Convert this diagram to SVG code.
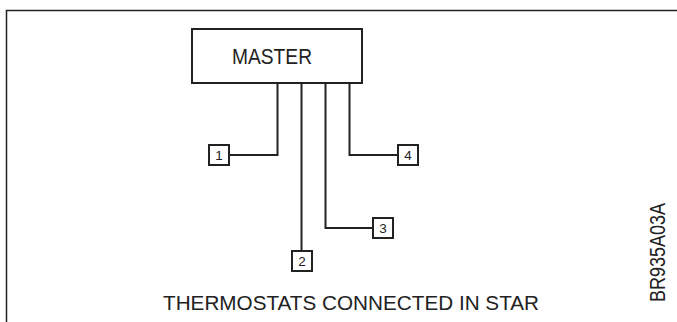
<svg xmlns="http://www.w3.org/2000/svg" width="677" height="322" viewBox="0 0 677 322">
<style>
.ln{fill:none;stroke:#222;stroke-width:2;stroke-linecap:square}
.bx{fill:#fff;stroke:#222;stroke-width:2}
.fr{fill:none;stroke:#222;stroke-width:1.5}
.t{font-family:"Liberation Sans",Arial,sans-serif;fill:#222}
.n{font-family:"Liberation Sans",Arial,sans-serif;fill:#222;font-size:13.5px;text-anchor:middle}
</style>
<rect width="677" height="322" fill="#fff"/>
<polyline class="fr" points="677,10.5 6.5,10.5 6.5,322"/>
<g id="connectors">
<polyline class="ln" points="277.5,84 277.5,155 229,155"/>
<polyline class="ln" points="301.5,84 301.5,251"/>
<polyline class="ln" points="325.5,84 325.5,228 373,228"/>
<polyline class="ln" points="349.5,84 349.5,155 398,155"/>
</g>
<g id="master">
<rect class="bx" x="192" y="29" width="170" height="54"/>
<text class="t" x="272" y="63.5" font-size="22" text-anchor="middle" textLength="80" lengthAdjust="spacingAndGlyphs">MASTER</text>
</g>
<g id="t1"><rect class="bx" x="209" y="145" width="20" height="20"/><text class="n" x="219" y="160">1</text></g>
<g id="t2"><rect class="bx" x="292" y="251" width="20" height="20"/><text class="n" x="302" y="266">2</text></g>
<g id="t3"><rect class="bx" x="373" y="218" width="20" height="20"/><text class="n" x="383" y="233">3</text></g>
<g id="t4"><rect class="bx" x="398" y="145" width="20" height="20"/><text class="n" x="408" y="160">4</text></g>
<text class="t" x="163" y="310" font-size="19.5" textLength="376" lengthAdjust="spacingAndGlyphs">THERMOSTATS CONNECTED IN STAR</text>
<text class="t" transform="translate(665,302) rotate(-90)" font-size="22" textLength="99" lengthAdjust="spacingAndGlyphs">BR935A03A</text>
</svg>
